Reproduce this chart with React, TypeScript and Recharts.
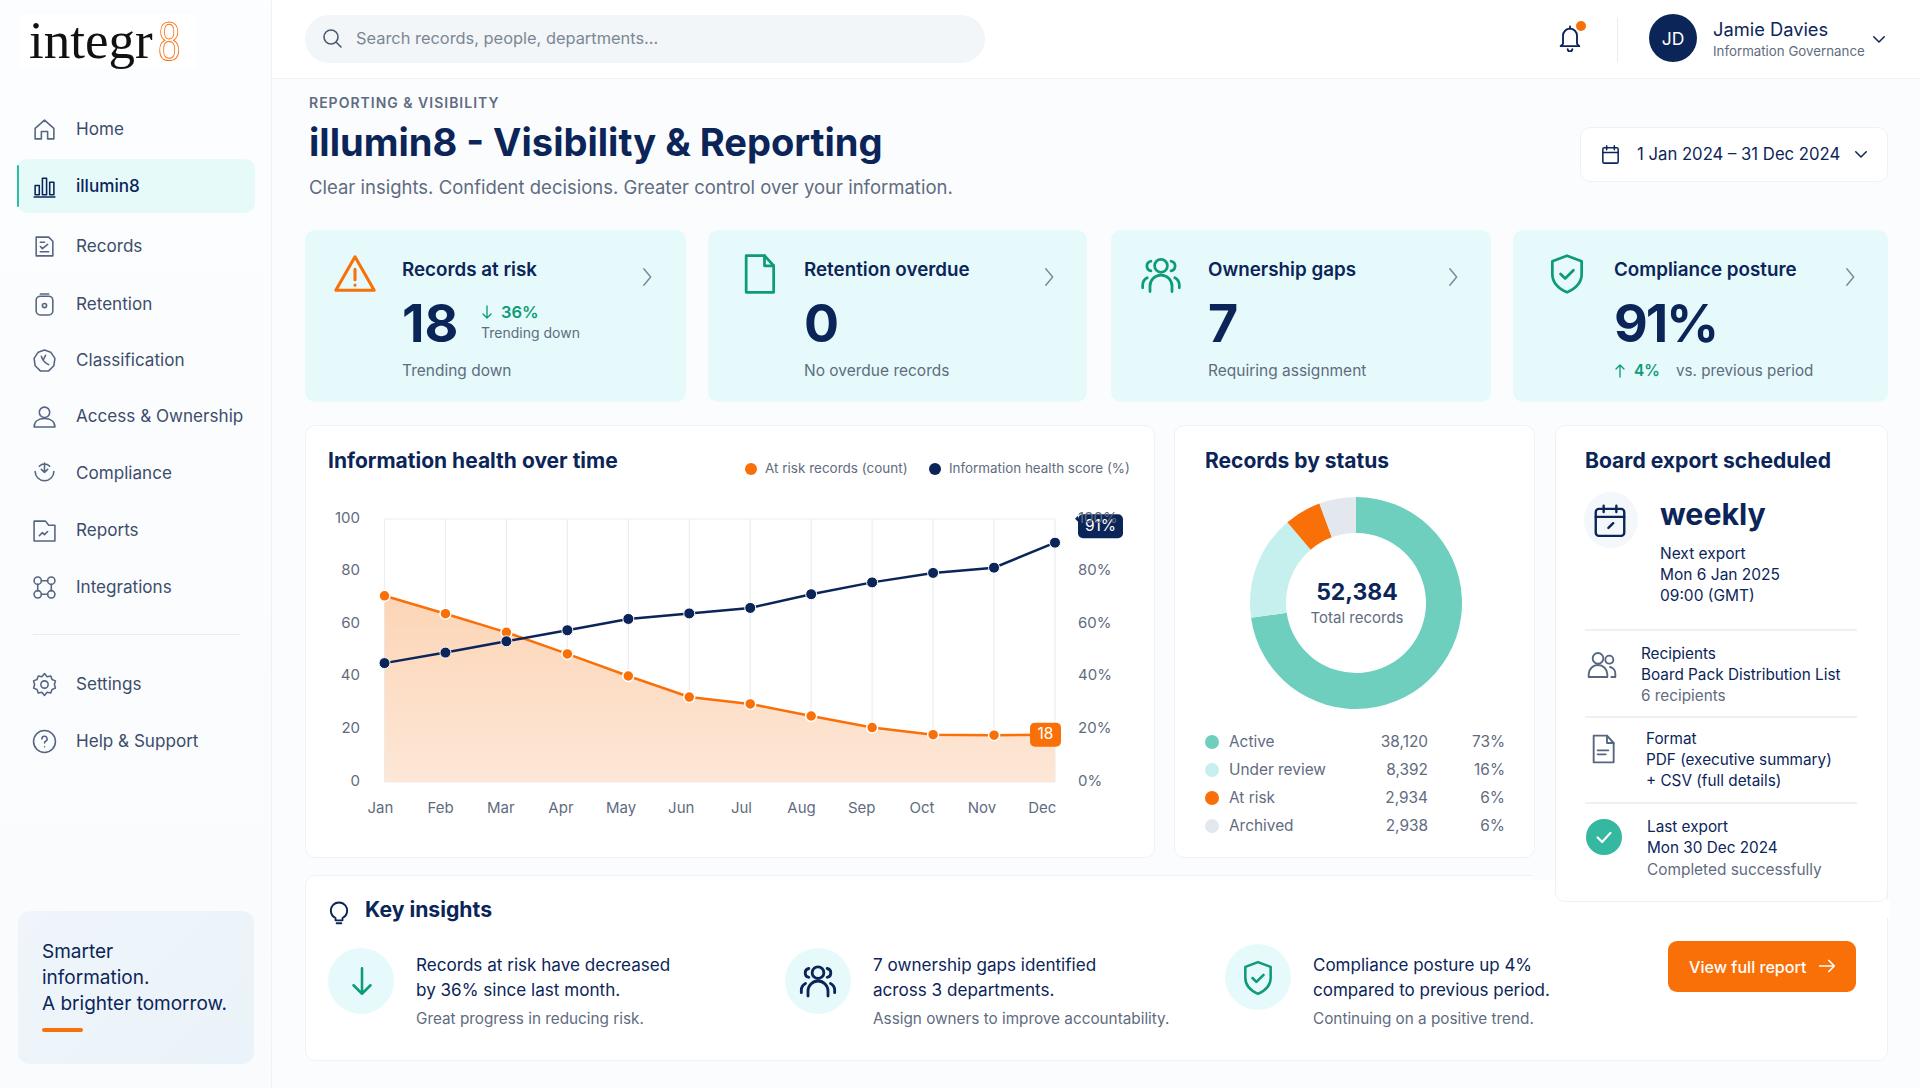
import type { CSSProperties, ReactNode } from "react";
import {
  ComposedChart, Area, Line, XAxis, YAxis, CartesianGrid, ReferenceDot, PieChart, Pie, Cell,
} from "recharts";

const NAVY = "#0b2559";
const ORANGE = "#f97008";
const TEAL = "#0d9b78";
const GRAY = "#5f6c80";
const FONT = "Inter, 'Noto Sans', sans-serif";

const months = ["Jan", "Feb", "Mar", "Apr", "May", "Jun", "Jul", "Aug", "Sep", "Oct", "Nov", "Dec"];
const riskCounts = [70.8, 64, 56.9, 48.7, 40.3, 32.3, 29.7, 25.1, 20.7, 18, 17.8, 18];
const healthScores = [45.2, 49.2, 53.5, 57.7, 62, 64.1, 66.2, 71.4, 75.9, 79.5, 81.5, 91];
const leftTicks = [0, 20, 40, 60, 80, 100];
const rightTicks = [0, 20, 40, 60, 80, 100];

const statusNames = ["Active", "Under review", "At risk", "Archived"];
const statusCounts = [38120, 8392, 2934, 2938];
const statusLabels = ["38,120", "8,392", "2,934", "2,938"];
const statusPcts = ["73%", "16%", "6%", "6%"];
const statusColors = ["#6fcfbf", "#c5f0ee", ORANGE, "#e2e8ee"];

const navItems = ["Home", "illumin8", "Records", "Retention", "Classification", "Access & Ownership", "Compliance", "Reports", "Integrations", "Settings", "Help & Support"];
const navY = [129, 186, 246, 304, 360, 416, 473, 530, 587, 684, 741];

const chartData = months.map((m, i) => ({ month: m, risk: riskCounts[i], health: healthScores[i] }));
const pieData = statusNames.map((n, i) => ({ name: n, value: statusCounts[i] }));

function T({ x, y, size, color = NAVY, weight = 400, right, center, style, children }: {
  x: number; y: number; size: number; color?: string; weight?: number; right?: boolean; center?: boolean; style?: CSSProperties; children: ReactNode;
}) {
  const tx = right ? "-100%" : center ? "-50%" : "0";
  return (
    <div style={{
      position: "absolute", left: x, top: y, transform: `translate(${tx}, -50%)`, fontSize: size, color,
      fontWeight: weight, whiteSpace: "nowrap", lineHeight: 1, ...style,
    }}>{children}</div>
  );
}

function Icon({ x, y, size = 24, color = GRAY, sw = 1.6, children }: {
  x: number; y: number; size?: number; color?: string; sw?: number; children: ReactNode;
}) {
  return (
    <svg width={size} height={size} viewBox="0 0 24 24" fill="none" stroke={color} strokeWidth={sw}
      strokeLinecap="round" strokeLinejoin="round"
      style={{ position: "absolute", left: x - size / 2, top: y - size / 2 }}>
      {children}
    </svg>
  );
}

function Box({ x, y, x2, y2, bg = "#fff", radius = 10, border, style, children }: {
  x: number; y: number; x2: number; y2: number; bg?: string; radius?: number; border?: string; style?: CSSProperties; children?: ReactNode;
}) {
  return (
    <div style={{
      position: "absolute", left: x, top: y, width: x2 - x, height: y2 - y, background: bg, borderRadius: radius,
      border, boxSizing: "border-box", ...style,
    }}>{children}</div>
  );
}

const CARD_BORDER = "1.5px solid #eef2f7";
const KPI_BG = "#e6fafb";

const navIcons: ReactNode[] = [
  <path d="M3 11 12 3l9 8v10h-6v-7H9v7H3z" />,
  <><rect x="3" y="11" width="4" height="9" /><rect x="10" y="4" width="4" height="16" /><rect x="17" y="8" width="4" height="12" /><path d="M2 22h20" /></>,
  <><path d="M4 3h12l4 4v14H4z" /><path d="M8 8h4M8 12l2 2 5-4M8 17h8" /></>,
  <><rect x="4" y="4" width="16" height="18" rx="4" /><path d="M8 2h8" /><circle cx="12" cy="13" r="2" /></>,
  <><path d="M12 2l6 2 4 6-1 7-5 5H8l-5-5-1-7 4-6z" /><path d="M9 8c1 4 3 6 7 8M13 7l-2 4" /></>,
  <><circle cx="12" cy="8" r="5" /><path d="M2 22c0-5 4-8 10-8s10 3 10 8z" /></>,
  <><path d="M3 10a9 9 0 1 0 18 0" /><path d="M7 5a7 7 0 0 1 10 0M12 2v9M9 8l3 3 3-3" /></>,
  <><path d="M2 3h11l3 4h6v15H2z" /><path d="M7 17l3-3 2 2 3-3" /></>,
  <><circle cx="5.500" cy="5.500" r="3.500" /><circle cx="18.500" cy="5.500" r="3.500" /><circle cx="5.500" cy="18.500" r="3.500" /><circle cx="18.500" cy="18.500" r="3.500" /><path d="M9 5.500h6M9 18.500h6M5.500 9v6M18.500 9v6" /></>,
  <><circle cx="12" cy="12" r="3.500" /><path d="M12 1.500l2.500 3 3.500-.7 1.200 3.400 3.300 1.300-1 3.500 1 3.500-3.300 1.300-1.200 3.400-3.500-.7-2.500 3-2.500-3-3.500.7-1.200-3.400L1.500 15.500l1-3.500-1-3.500 3.300-1.300L6 3.800l3.500.7z" /></>,
  <><circle cx="12" cy="12" r="10.500" /><path d="M9.500 9.500a2.500 2.500 0 1 1 3.500 2.300c-.7.4-1 .9-1 1.700M12 17v.1" /></>,
];

const Chevron = ({ x, y }: { x: number; y: number }) => (
  <Icon x={x} y={y} size={22} color="#7d889c" sw={1.6}><path d="M8.500 3l7.500 9-7.500 9" /></Icon>
);
const ChevDown = ({ x, y }: { x: number; y: number }) => (
  <Icon x={x} y={y} size={18} color={NAVY} sw={2}><path d="M5 9l7 7 7-7" /></Icon>
);

const PeopleIcon = ({ x, y, size, color, sw }: { x: number; y: number; size: number; color: string; sw: number }) => (
  <Icon x={x} y={y} size={size} color={color} sw={sw}>
    <circle cx="12" cy="7" r="3.500" /><path d="M6 21v-3a6 6 0 0 1 12 0v3" />
    <path d="M6.500 4.500a2.700 2.700 0 0 0 0 5.300M2 19v-1.500a4.500 4.500 0 0 1 2.500-4M17.500 4.500a2.700 2.700 0 0 1 0 5.300M22 19v-1.500a4.500 4.500 0 0 0-2.500-4" />
  </Icon>
);
const ShieldIcon = ({ x, y, size, color, sw }: { x: number; y: number; size: number; color: string; sw: number }) => (
  <Icon x={x} y={y} size={size} color={color} sw={sw}>
    <path d="M12 2l8 3v7c0 5-3.500 8-8 10-4.500-2-8-5-8-10V5z" /><path d="M8.500 12l2.500 2.500 4.500-4.500" />
  </Icon>
);

function YTick({ x, y, payload, suffix, left }: any) {
  return (
    <text x={x} y={y} fontSize={15} fill={GRAY} fontFamily={FONT} dominantBaseline="middle"
      textAnchor={left ? "end" : "start"}>
      {payload.value}{suffix}
    </text>
  );
}

// month labels sit a bit left of their points in the original and drift further along the axis
function MonthTick({ x, y, payload, index }: any) {
  return (
    <text x={x - 4 - index * 0.8} y={y + 18.500} fontSize={15} fill={GRAY} fontFamily={FONT} textAnchor="middle" dominantBaseline="middle">
      {payload.value}
    </text>
  );
}

function RiskBadge({ cx, cy }: any) {
  return (
    <g>
      <rect x={cx - 25} y={cy - 12} width={31} height={24} rx={5} fill={ORANGE} />
      <text x={cx - 9.500} y={cy + 0.5} fontSize={15.500} fill="#fff" fontFamily={FONT} textAnchor="middle" dominantBaseline="middle">18</text>
    </g>
  );
}

function HealthBadge({ cx, cy }: any) {
  return (
    <g>
      <path d={`M${cx + 23} ${cy - 21} l-3 -3 l3 -3 z`} fill={NAVY} />
      <rect x={cx + 23} y={cy - 28.500} width={45} height={24} rx={5} fill={NAVY} />
      <text x={cx + 45.500} y={cy - 16} fontSize={15.500} fill="#fff" fontFamily={FONT} textAnchor="middle" dominantBaseline="middle">91%</text>
    </g>
  );
}

function HealthChart() {
  return (
    <ComposedChart width={850} height={340} data={chartData} margin={{ top: 19, right: 0, bottom: 0, left: 0 }}>
      <defs>
        <linearGradient id="riskFill" x1="0" y1="0" x2="0" y2="1">
          <stop offset="0%" stopColor="#fcd5b6" />
          <stop offset="100%" stopColor="#fde7d7" />
        </linearGradient>
      </defs>
      <CartesianGrid stroke="#e9eef4" strokeWidth={1.2} />
      <XAxis dataKey="month" scale="point" padding={{ left: 0, right: 0 }} height={58} axisLine={false} tickLine={false}
        interval={0} tick={<MonthTick />} />
      <YAxis yAxisId="left" domain={[0, 100]} ticks={leftTicks} width={79.5} axisLine={false} tickLine={false}
        tick={(p: any) => <YTick {...p} x={55} y={p.y - 0.5} left suffix="" />} />
      <YAxis yAxisId="right" orientation="right" domain={[0, 100]} ticks={rightTicks} width={100} axisLine={false} tickLine={false}
        tick={(p: any) => <YTick {...p} x={773} y={p.y - 0.5} suffix="%" />} />
      <Area yAxisId="left" dataKey="risk" stroke={ORANGE} strokeWidth={2.5} fill="url(#riskFill)" fillOpacity={1} type="linear"
        isAnimationActive={false} dot={{ r: 5.500, fill: ORANGE, stroke: "#fff", strokeWidth: 1.500, fillOpacity: 1 }} />
      <Line yAxisId="right" dataKey="health" stroke={NAVY} strokeWidth={2.500} type="linear" isAnimationActive={false}
        dot={{ r: 5.500, fill: NAVY, stroke: "#fff", strokeWidth: 1 }} />
      <ReferenceDot yAxisId="left" x={months[11]} y={riskCounts[11]} shape={<RiskBadge />} ifOverflow="visible" />
      <ReferenceDot yAxisId="right" x={months[11]} y={healthScores[11]} shape={<HealthBadge />} ifOverflow="visible" />
    </ComposedChart>
  );
}

function StatusDonut() {
  return (
    <PieChart width={240} height={240}>
      <Pie data={pieData} dataKey="value" cx={120} cy={120} innerRadius={70} outerRadius={106} startAngle={90} endAngle={-270}
        stroke="none" isAnimationActive={false}>
        {pieData.map((d, i) => <Cell key={d.name} fill={statusColors[i]} />)}
      </Pie>
    </PieChart>
  );
}

function Sidebar() {
  return (
    <>
      <div style={{ position: "absolute", left: 0, top: 0, width: 272, height: 1088, background: "linear-gradient(180deg,#fcfdfe,#f9fbfd)", borderRight: "1.5px solid #eef2f7", boxSizing: "border-box" }} />
      <div style={{ position: "absolute", left: 20, top: 14, width: 176, height: 55, background: "#fff" }} />
      <T x={29} y={40} size={53} color="#111" style={{ fontFamily: "'Liberation Serif', serif" }}>integr</T>
      <div style={{
        position: "absolute", left: 158, top: 10, fontSize: 56, lineHeight: "62px", fontFamily: "'Liberation Serif', serif", color: "#fff",
        WebkitTextStroke: "1px #f97316", transform: "scaleX(0.8)", transformOrigin: "left top",
      }}>8</div>

      <Box x={17} y={159} x2={255} y2={213} bg="#e6fafa" radius={10} />
      <div style={{ position: "absolute", left: 17, top: 165, width: 2, height: 42, background: "#2bbfa3", borderRadius: 2 }} />
      {navItems.map((n, i) => (
        <div key={n}>
          <Icon x={44.500} y={navY[i]} size={25} sw={1.500} color={i === 1 ? NAVY : "#566580"}>{navIcons[i]}</Icon>
          <T x={76} y={navY[i]} size={17.100} color={i === 1 ? NAVY : "#3c4d6b"} weight={i === 1 ? 500 : 400}>{n}</T>
        </div>
      ))}
      <div style={{ position: "absolute", left: 33, top: 634, width: 207, height: 1, background: "#e6ebf1" }} />

      <Box x={18} y={911} x2={254} y2={1064} bg="linear-gradient(135deg,#eff5fa,#eaf3f9)" radius={12} />
      <T x={42} y={951} size={19}>Smarter</T>
      <T x={42} y={977} size={19}>information.</T>
      <T x={42} y={1003} size={19}>A brighter tomorrow.</T>
      <div style={{ position: "absolute", left: 42, top: 1028, width: 41, height: 4, background: ORANGE, borderRadius: 2 }} />
    </>
  );
}

function Header() {
  return (
    <>
      <div style={{ position: "absolute", left: 272, top: 0, width: 1648, height: 79, background: "#fff", borderBottom: "1.5px solid #eef2f7", boxSizing: "border-box" }} />
      <Box x={305} y={15} x2={985} y2={63} bg="#f2f6f9" radius={24} />
      <Icon x={332} y={38} size={24} color="#4b5a72"><circle cx="11" cy="11" r="7" /><path d="M16 16l5 5" /></Icon>
      <T x={356} y={38} size={16.400} color="#7b8794">Search records, people, departments...</T>

      <Icon x={1570} y={38} size={28} color={NAVY}><path d="M6 17V10a6 6 0 0 1 12 0v7l2 2H4z" /><path d="M10 21.500a2 2 0 0 0 4 0M12 2v2" /></Icon>
      <div style={{ position: "absolute", left: 1576, top: 21, width: 10, height: 10, borderRadius: 5, background: ORANGE }} />
      <div style={{ position: "absolute", left: 1617, top: 18, width: 1, height: 44, background: "#e9edf2" }} />
      <div style={{ position: "absolute", left: 1649, top: 14, width: 48, height: 48, borderRadius: 24, background: NAVY }} />
      <T x={1673} y={39} size={17.500} color="#fff" center>JD</T>
      <T x={1713} y={29} size={18.300}>Jamie Davies</T>
      <T x={1713} y={52} size={13.300} color={GRAY}>Information Governance</T>
      <ChevDown x={1879} y={39} />

      <T x={309} y={103} size={14} weight={600} color={GRAY} style={{ letterSpacing: 1 }}>REPORTING &amp; VISIBILITY</T>
      <T x={309} y={142} size={38.100} weight={700}>illumin8 - Visibility &amp; Reporting</T>
      <T x={309} y={187} size={18.500} color={GRAY}>Clear insights. Confident decisions. Greater control over your information.</T>

      <Box x={1580} y={127} x2={1888} y2={182} bg="#fff" radius={10} border={CARD_BORDER} />
      <Icon x={1610} y={154} size={23} color={NAVY}><rect x="4" y="5" width="16" height="16" rx="1.500" /><path d="M4 10h16M8 3v4M16 3v4" /></Icon>
      <T x={1637} y={154} size={16.700}>1 Jan 2024 – 31 Dec 2024</T>
      <ChevDown x={1861} y={154} />
    </>
  );
}

function KpiCards() {
  return (
    <>
      <Box x={305} y={230} x2={686} y2={402} bg={KPI_BG} />
      <Box x={708} y={230} x2={1087} y2={402} bg={KPI_BG} />
      <Box x={1111} y={230} x2={1491} y2={402} bg={KPI_BG} />
      <Box x={1513} y={230} x2={1888} y2={402} bg={KPI_BG} />

      <Icon x={355} y={274} size={46} color={ORANGE} sw={1.600}><path d="M12 3L2 20.500h20z" /><path d="M12 9.500v5.500M12 17.800v.1" /></Icon>
      <T x={402} y={270} size={18.800} weight={600}>Records at risk</T>
      <T x={402} y={324} size={52} weight={700}>18</T>
      <Icon x={487} y={312} size={16} color={TEAL} sw={2}><path d="M12 3v18M6 15l6 6 6-6" /></Icon>
      <T x={501} y={312} size={16.500} weight={600} color={TEAL}>36%</T>
      <T x={481} y={333} size={14} color={GRAY}>Trending down</T>
      <T x={402} y={371} size={15.500} color={GRAY}>Trending down</T>
      <Chevron x={647} y={277} />

      <Icon x={759} y={274} size={44} color={TEAL} sw={1.500}><path d="M5 2h10l5 5.500V22H5z" /><path d="M15 2v5.500h5" /></Icon>
      <T x={804} y={270} size={18.800} weight={600}>Retention overdue</T>
      <T x={804} y={324} size={52} weight={700}>0</T>
      <T x={804} y={371} size={15.500} color={GRAY}>No overdue records</T>
      <Chevron x={1049} y={277} />

      <PeopleIcon x={1161} y={275} size={44} color={TEAL} sw={1.500} />
      <T x={1208} y={270} size={18.800} weight={600}>Ownership gaps</T>
      <T x={1208} y={324} size={52} weight={700}>7</T>
      <T x={1208} y={371} size={15.500} color={GRAY}>Requiring assignment</T>
      <Chevron x={1453} y={277} />

      <ShieldIcon x={1567} y={274} size={44} color={TEAL} sw={1.500} />
      <T x={1614} y={270} size={18.800} weight={600}>Compliance posture</T>
      <T x={1614} y={324} size={52} weight={700} style={{ letterSpacing: -2 }}>91%</T>
      <Icon x={1620} y={371} size={16} color={TEAL} sw={2}><path d="M12 21V3M6 9l6-6 6 6" /></Icon>
      <T x={1634} y={371} size={15.500} weight={600} color={TEAL}>4%</T>
      <T x={1676} y={371} size={15.200} color={GRAY}>vs. previous period</T>
      <Chevron x={1850} y={277} />
    </>
  );
}

function HealthCard() {
  return (
    <>
      <Box x={305} y={425} x2={1155} y2={858} border={CARD_BORDER} />
      <T x={328} y={460} size={21} weight={650}>Information health over time</T>
      <div style={{ position: "absolute", left: 745, top: 463, width: 12, height: 12, borderRadius: 6, background: ORANGE }} />
      <T x={765} y={469} size={13.500} color={GRAY}>At risk records (count)</T>
      <div style={{ position: "absolute", left: 929, top: 463, width: 12, height: 12, borderRadius: 6, background: NAVY }} />
      <T x={949} y={469} size={13.400} color={GRAY}>Information health score (%)</T>
      <div style={{ position: "absolute", left: 305, top: 500 }}><HealthChart /></div>
    </>
  );
}

function StatusCard() {
  return (
    <>
      <Box x={1174} y={425} x2={1535} y2={858} border={CARD_BORDER} />
      <T x={1205} y={460} size={21} weight={650}>Records by status</T>
      <div style={{ position: "absolute", left: 1231, top: 478 }}><StatusDonut /></div>
      <T x={1357} y={592} size={23} weight={700} center>52,384</T>
      <T x={1357} y={617} size={15} color={GRAY} center>Total records</T>
      {statusNames.map((n, i) => {
        const y = [742, 770, 798, 826][i];
        return (
          <div key={n}>
            <div style={{ position: "absolute", left: 1205, top: y - 7, width: 14, height: 14, borderRadius: 7, background: statusColors[i] }} />
            <T x={1229} y={y} size={15.400} color={GRAY}>{n}</T>
            <T x={1428} y={y} size={15.400} color={GRAY} right>{statusLabels[i]}</T>
            <T x={1505} y={y} size={15.400} color={GRAY} right>{statusPcts[i]}</T>
          </div>
        );
      })}
    </>
  );
}

function BoardCard() {
  const rule = (y: number) => <div style={{ position: "absolute", left: 1585, top: y, width: 272, height: 1.500, background: "#edf1f6" }} />;
  return (
    <>
      <Box x={1555} y={425} x2={1888} y2={902} border={CARD_BORDER} />
      <T x={1585} y={461} size={21.100} weight={650}>Board export scheduled</T>
      <div style={{ position: "absolute", left: 1584, top: 492, width: 54, height: 56, borderRadius: 28, background: "#f4f8fb" }} />
      <Icon x={1610} y={520} size={38} color={NAVY} sw={1.500}><rect x="3" y="5" width="18" height="17" rx="2" /><path d="M3 10h18M8 3v4M16 3v4M11 17l3-3" /></Icon>
      <T x={1660} y={514} size={30.300} weight={700}>weekly</T>
      <T x={1660} y={554} size={15.500}>Next export</T>
      <T x={1660} y={575} size={15.500}>Mon 6 Jan 2025</T>
      <T x={1660} y={596} size={15.500}>09:00 (GMT)</T>
      {rule(629)}
      <Icon x={1602} y={665} size={32} color="#566580" sw={1.400}><circle cx="9" cy="7" r="4" /><circle cx="17.500" cy="8" r="3" /><path d="M2 21v-2a7 7 0 0 1 14 0v2zM18 13.500a5 5 0 0 1 4 5V21h-3" /></Icon>
      <T x={1641} y={654} size={15.300}>Recipients</T>
      <T x={1641} y={675} size={15.300}>Board Pack Distribution List</T>
      <T x={1641} y={696} size={15.300} color={GRAY}>6 recipients</T>
      {rule(716)}
      <Icon x={1603} y={749} size={32} color="#566580" sw={1.400}><path d="M5 2h10l5 5.500V22H5z" /><path d="M15 2v5.500h5M8 13h8M8 16h6" /></Icon>
      <T x={1646} y={739} size={15.300}>Format</T>
      <T x={1646} y={760} size={15.300}>PDF (executive summary)</T>
      <T x={1646} y={781} size={15.300}>+ CSV (full details)</T>
      {rule(802)}
      <div style={{ position: "absolute", left: 1586, top: 819, width: 36, height: 36, borderRadius: 18, background: "#35b8a0" }} />
      <Icon x={1604} y={837} size={22} color="#fff" sw={2.400}><path d="M5 12.500l5 5 9-10" /></Icon>
      <T x={1647} y={827} size={15.300}>Last export</T>
      <T x={1647} y={848} size={15.300}>Mon 30 Dec 2024</T>
      <T x={1647} y={870} size={15.400} color={GRAY}>Completed successfully</T>
    </>
  );
}

function InsightsCard() {
  const circle = (cx: number, cy: number) => (
    <div style={{ position: "absolute", left: cx - 33, top: cy - 33, width: 66, height: 66, borderRadius: 33, background: "#e6fafb" }} />
  );
  return (
    <>
      <Box x={305} y={875} x2={1888} y2={1061} border={CARD_BORDER} />
      {/* top edge fades out behind the board export card */}
      <div style={{ position: "absolute", left: 1533, top: 870, width: 30, height: 10, background: "#fbfcfe" }} />
      <div style={{ position: "absolute", left: 1540, top: 900, width: 350, height: 18, background: "#fff" }} />
      <Icon x={339} y={911} size={28} color={NAVY} sw={1.600}><path d="M9 18a7 7 0 1 1 6 0v2H9zM10 22.500h4" /></Icon>
      <T x={365} y={910} size={21.200} weight={650}>Key insights</T>

      {circle(361, 981)}
      <Icon x={362} y={981} size={34} color={TEAL} sw={1.800}><path d="M12 3v18M6 15l6 6 6-6" /></Icon>
      <T x={416} y={965} size={17.100}>Records at risk have decreased</T>
      <T x={416} y={990} size={17.100}>by 36% since last month.</T>
      <T x={416} y={1019} size={15.300} color={GRAY}>Great progress in reducing risk.</T>

      {circle(818, 981)}
      <PeopleIcon x={818} y={981} size={40} color={NAVY} sw={1.700} />
      <T x={873} y={965} size={17.100}>7 ownership gaps identified</T>
      <T x={873} y={990} size={17.100}>across 3 departments.</T>
      <T x={873} y={1019} size={15.300} color={GRAY}>Assign owners to improve accountability.</T>

      {circle(1258, 977)}
      <ShieldIcon x={1258} y={978} size={38} color={TEAL} sw={1.600} />
      <T x={1313} y={965} size={17}>Compliance posture up 4%</T>
      <T x={1313} y={990} size={17}>compared to previous period.</T>
      <T x={1313} y={1019} size={15.300} color={GRAY}>Continuing on a positive trend.</T>

      <Box x={1668} y={941} x2={1856} y2={992} bg={ORANGE} radius={9} />
      <T x={1689} y={967} size={16.100} weight={500} color="#fff">View full report</T>
      <Icon x={1827} y={966} size={22} color="#fff" sw={1.800}><path d="M4 12h16M14 6l6 6-6 6" /></Icon>
    </>
  );
}

export default function App() {
  return (
    <div style={{
      position: "fixed", left: 0, top: 0, width: 1920, height: 1088, overflow: "hidden",
      background: "#fbfcfe", fontFamily: FONT,
    }}>
      <Sidebar />
      <Header />
      <KpiCards />
      <InsightsCard />
      <HealthCard />
      <StatusCard />
      <BoardCard />
    </div>
  );
}
